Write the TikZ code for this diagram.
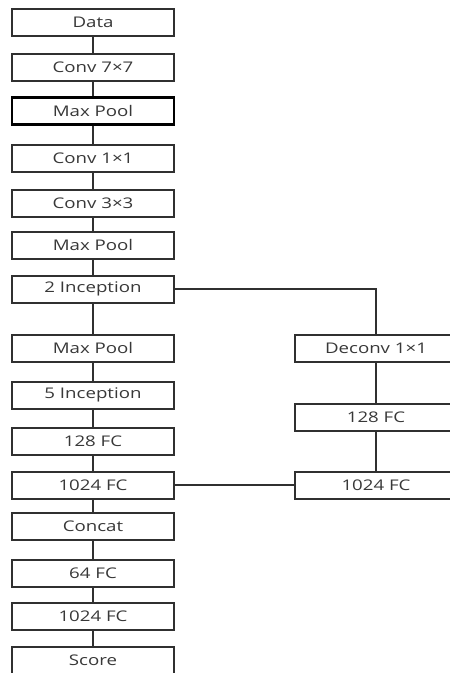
\documentclass[tikz,border=0pt]{standalone}
\usepackage{fontspec}
\newfontfamily\boxfont[FakeStretch=1.27]{Open Sans}
\definecolor{edge}{HTML}{303030}
\definecolor{txt}{HTML}{383838}
\begin{document}
\begin{tikzpicture}[x=1pt,y=1pt,
  layer/.style={draw=edge, line width=2pt, fill=white, rectangle,
    minimum width=162pt, minimum height=27pt, inner sep=0pt,
    text=txt, font=\boxfont\fontsize{14.7}{16}\selectfont},
  strong/.style={layer, draw=black, line width=2.4pt},
  link/.style={draw=edge, line width=2pt},
  hlink/.style={draw=edge, line width=1.6pt}]
\useasboundingbox (0,0) rectangle (450,-673);
\begin{scope}
\clip (0,0) rectangle (450,-673);
% left column
\node[layer]  (data)  at (93,-22)  {Data};
\node[layer]  (c7)    at (93,-67)  {Conv 7×7};
\node[strong] (mp1)   at (93,-111) {Max Pool};
\node[layer]  (c1)    at (93,-158) {Conv 1×1};
\node[layer]  (c3)    at (93,-203) {Conv 3×3};
\node[layer]  (mp2)   at (93,-245) {Max Pool};
\node[layer]  (inc2)  at (93,-289) {2 Inception};
\node[layer]  (mp3)   at (93,-348) {Max Pool};
\node[layer]  (inc5)  at (93,-395) {5 Inception};
\node[layer]  (fc128) at (93,-441) {128 FC};
\node[layer]  (fc1k)  at (93,-485) {1024 FC};
\node[layer]  (cat)   at (93,-526) {Concat};
\node[layer]  (fc64)  at (93,-573) {64 FC};
\node[layer]  (fc1kb) at (93,-616) {1024 FC};
\node[layer]  (score) at (93,-660) {Score};
% right column
\node[layer] (dec)    at (376,-348) {Deconv 1×1};
\node[layer] (rfc128) at (376,-417) {128 FC};
\node[layer] (rfc1k)  at (376,-485) {1024 FC};
% connectors
\foreach \a/\b in {data/c7, c7/mp1, mp1/c1, c1/c3, c3/mp2, mp2/inc2,
                   inc2/mp3, mp3/inc5, inc5/fc128, fc128/fc1k, fc1k/cat,
                   cat/fc64, fc64/fc1kb, fc1kb/score, dec/rfc128, rfc128/rfc1k}
  \draw[link] (\a.south) -- (\b.north);
\draw[hlink] (inc2.east) -| (dec.north);
\draw[hlink] (fc1k.east) -- (rfc1k.west);
\end{scope}
\end{tikzpicture}
\end{document}
